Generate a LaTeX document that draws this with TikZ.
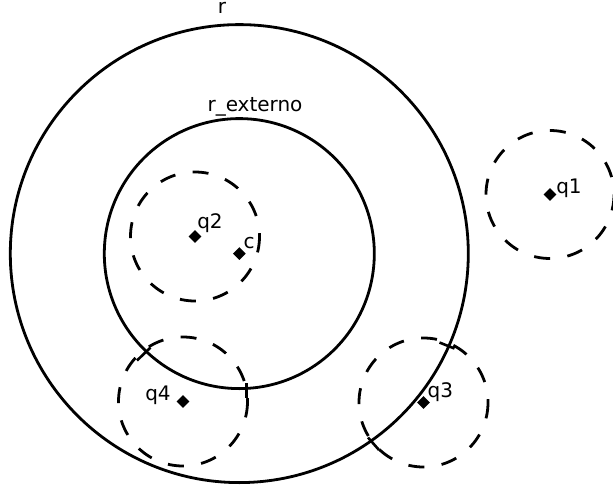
\documentclass[tikz,border=0pt]{standalone}
\usepackage{fontspec}
\setmainfont{DejaVu Sans}
\begin{document}
\begin{tikzpicture}[x=1pt,y=-1pt,
  solidcirc/.style={line width=2.8pt},
  dashcirc/.style={line width=2.8pt, dash pattern=on 16pt off 17.5pt},
  tickmark/.style={line width=2.6pt},
  ptmark/.style={fill=black, rectangle, rotate=45, minimum size=9pt, inner sep=0pt},
  lbl/.style={font=\fontsize{20}{24}\selectfont, inner sep=0pt}]
\useasboundingbox (0,0) rectangle (613,487);
% centre points
\node[ptmark] (c) at (239.3,253.6) {};
\node[ptmark] (q1) at (550,194.5) {};
\node[ptmark] (q2) at (195,236.5) {};
\node[ptmark] (q3) at (423.5,402.5) {};
\node[ptmark] (q4) at (183,401.5) {};
% solid circles
\draw[solidcirc] (c.center) circle[radius=229];
\draw[solidcirc] (c.center) circle[radius=135];
% dashed circles
\draw[dashcirc] (q1.center) circle[radius=64];
\draw[dashcirc] (q2.center) circle[radius=64.5];
\draw[dashcirc] (q3.center) circle[radius=64.5];
\draw[dashcirc] (q4.center) circle[radius=64.5];
% tick marks at the crossings
\coordinate (t1a) at (137,360.5);
\coordinate (t1b) at (150.5,347.5);
\coordinate (t2a) at (246.3,383);
\coordinate (t2b) at (246.3,398);
\coordinate (t3a) at (439.5,342.5);
\coordinate (t3b) at (454.5,348.5);
\coordinate (t4a) at (368,437.5);
\coordinate (t4b) at (379,450);
\draw[tickmark] (t1a) -- (t1b);
\draw[tickmark] (t2a) -- (t2b);
\draw[tickmark] (t3a) -- (t3b);
\draw[tickmark] (t4a) -- (t4b);
% labels
\node[lbl] (lr) at (222,8.3) {r};
\node[lbl] (lre) at (255,107) {r\_externo};
\node[lbl] (lc) at (249.2,243) {c};
\node[lbl] (lq1) at (569,188.7) {q1};
\node[lbl] (lq2) at (210,223) {q2};
\node[lbl] (lq3) at (440.3,391.7) {q3};
\node[lbl] (lq4) at (158,395.3) {q4};
\end{tikzpicture}
\end{document}
